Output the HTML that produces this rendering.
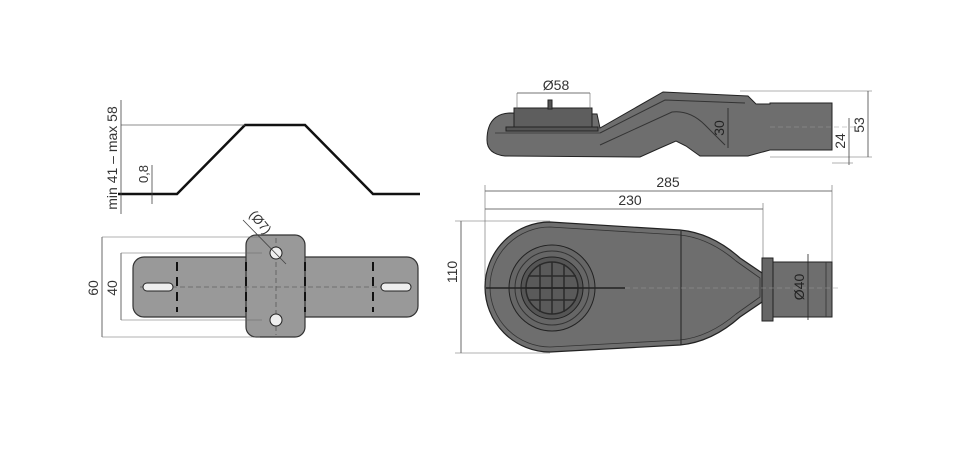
<!DOCTYPE html>
<html><head><style>html,body{margin:0;padding:0;background:#fff}svg{display:block}</style></head>
<body>
<svg width="960" height="471" viewBox="0 0 960 471" xmlns="http://www.w3.org/2000/svg" font-family="Liberation Sans, sans-serif" fill="none">
<rect width="960" height="471" fill="#fff"/>
<!-- LEFT profile -->
<polyline points="118,194 177,194 245,125 305,125 373,194 420,194" stroke="#111" stroke-width="2.5"/>
<line x1="121" y1="125" x2="245" y2="125" stroke="#666" stroke-width="0.7"/>
<line x1="121" y1="100" x2="121" y2="214" stroke="#444" stroke-width="0.8"/>
<line x1="152" y1="165" x2="152" y2="204" stroke="#444" stroke-width="0.8"/>
<text x="117" y="158" transform="rotate(-90 117 158)" text-anchor="middle" font-size="14" fill="#333">min 41 – max 58</text>
<text x="148" y="174" transform="rotate(-90 148 174)" text-anchor="middle" font-size="13" fill="#333">0,8</text>
<!-- plate -->
<rect x="133" y="257" width="285" height="60" rx="11" fill="#999" stroke="#333" stroke-width="1.2"/>
<rect x="246" y="235" width="59" height="102" rx="10" fill="#999" stroke="#333" stroke-width="1.2"/>
<g stroke="#111" stroke-width="2" stroke-dasharray="9,6">
<line x1="177" y1="262" x2="177" y2="312"/><line x1="246" y1="262" x2="246" y2="312"/>
<line x1="305" y1="262" x2="305" y2="312"/><line x1="373" y1="262" x2="373" y2="312"/>
</g>
<line x1="140" y1="287" x2="412" y2="287" stroke="#444" stroke-width="0.6" stroke-dasharray="5,3"/>
<line x1="276" y1="238" x2="276" y2="335" stroke="#444" stroke-width="0.6" stroke-dasharray="5,3"/>
<circle cx="276" cy="253" r="6" fill="#eee" stroke="#222"/>
<circle cx="276" cy="320" r="6" fill="#eee" stroke="#222"/>
<rect x="143" y="283" width="30" height="8" rx="4" fill="#eee" stroke="#222"/>
<rect x="381" y="283" width="30" height="8" rx="4" fill="#eee" stroke="#222"/>
<line x1="102" y1="237" x2="102" y2="337" stroke="#444" stroke-width="0.8"/>
<line x1="102" y1="237" x2="260" y2="237" stroke="#666" stroke-width="0.6"/>
<line x1="102" y1="337" x2="260" y2="337" stroke="#666" stroke-width="0.6"/>
<line x1="121" y1="253" x2="121" y2="320" stroke="#444" stroke-width="0.8"/>
<line x1="121" y1="253" x2="262" y2="253" stroke="#666" stroke-width="0.6"/>
<line x1="121" y1="320" x2="262" y2="320" stroke="#666" stroke-width="0.6"/>
<text x="98" y="288" transform="rotate(-90 98 288)" text-anchor="middle" font-size="14" fill="#333">60</text>
<text x="117" y="288" transform="rotate(-90 117 288)" text-anchor="middle" font-size="14" fill="#333">40</text>
<line x1="243" y1="220" x2="286" y2="264" stroke="#444" stroke-width="0.8"/>
<text x="257" y="225" transform="rotate(50 257 225)" text-anchor="middle" font-size="13" fill="#333">(Ø7)</text>
<!-- RIGHT side view -->
<path d="M487,140 Q487,114 510,113 L597,114 L600,128 L663,92 L748,96 L756,104 L770,104 L770,103 L832,103 L832,150 L770,150 L748,156 L700,156 L686,146 L676,141 L660,148 L640,157 L505,156 Q487,154 487,140 Z" fill="#6e6e6e" stroke="#222" stroke-width="1"/>
<path d="M600,133 L665,100 L745,103" stroke="#333" stroke-width="1"/>
<path d="M600,145 L672,112 Q690,110 705,125 L725,145" stroke="#333" stroke-width="1"/>
<line x1="495" y1="133" x2="600" y2="133" stroke="#333" stroke-width="0.8"/>
<rect x="514" y="108" width="78" height="20" fill="#5e5e5e" stroke="#222"/>
<rect x="506" y="127" width="92" height="4" fill="#555" stroke="#222"/>
<rect x="548" y="100" width="4" height="9" fill="#555" stroke="#222"/>
<line x1="770" y1="127" x2="860" y2="127" stroke="#999" stroke-width="0.6" stroke-dasharray="5,3"/>
<line x1="517" y1="93" x2="590" y2="93" stroke="#444" stroke-width="0.8"/>
<line x1="517" y1="93" x2="517" y2="110" stroke="#666" stroke-width="0.6"/>
<line x1="590" y1="93" x2="590" y2="110" stroke="#666" stroke-width="0.6"/>
<text x="556" y="90" text-anchor="middle" font-size="14" fill="#333">Ø58</text>
<line x1="728" y1="108" x2="728" y2="148" stroke="#222" stroke-width="0.8"/>
<text x="724" y="128" transform="rotate(-90 724 128)" text-anchor="middle" font-size="14" fill="#222">30</text>
<line x1="740" y1="91" x2="872" y2="91" stroke="#666" stroke-width="0.6"/>
<line x1="770" y1="157" x2="872" y2="157" stroke="#666" stroke-width="0.6"/>
<line x1="868" y1="91" x2="868" y2="157" stroke="#444" stroke-width="0.8"/>
<line x1="849" y1="118" x2="849" y2="165" stroke="#444" stroke-width="0.8"/>
<line x1="832" y1="163" x2="853" y2="163" stroke="#666" stroke-width="0.6"/>
<text x="864" y="125" transform="rotate(-90 864 125)" text-anchor="middle" font-size="14" fill="#333">53</text>
<text x="845" y="141" transform="rotate(-90 845 141)" text-anchor="middle" font-size="14" fill="#333">24</text>
<!-- top view -->
<line x1="485" y1="191" x2="832" y2="191" stroke="#444" stroke-width="0.8"/>
<line x1="485" y1="209" x2="763" y2="209" stroke="#444" stroke-width="0.8"/>
<line x1="485" y1="185" x2="485" y2="280" stroke="#666" stroke-width="0.6"/>
<line x1="832" y1="185" x2="832" y2="262" stroke="#666" stroke-width="0.6"/>
<line x1="763" y1="203" x2="763" y2="262" stroke="#666" stroke-width="0.6"/>
<text x="668" y="187" text-anchor="middle" font-size="14" fill="#333">285</text>
<text x="630" y="205" text-anchor="middle" font-size="14" fill="#333">230</text>
<path d="M550,222 L680,230 Q712,233 740,258 L765,275 L765,300 L740,317 Q712,342 680,345 L550,352 A65,65 0 0 1 550,222 Z" fill="#6e6e6e" stroke="#222" stroke-width="1.2"/>
<path d="M550,227 L680,235 Q709,238 736,261 L760,278 L760,297 L736,314 Q709,337 680,340 L550,347 A60,60 0 0 1 550,227 Z" stroke="#333" stroke-width="0.8"/>
<line x1="681" y1="231" x2="681" y2="345" stroke="#222" stroke-width="1"/>
<rect x="762" y="262" width="70" height="55" fill="#6e6e6e" stroke="#222"/>
<rect x="762" y="258" width="11" height="63" fill="#666" stroke="#222"/>
<line x1="826" y1="262" x2="826" y2="317" stroke="#333" stroke-width="0.8"/>
<circle cx="552" cy="288" r="43" fill="#666" stroke="#222"/>
<circle cx="552" cy="288" r="37" stroke="#333"/>
<circle cx="552" cy="288" r="31" fill="#555" stroke="#222"/>
<g stroke="#2a2a2a" stroke-width="1.5">
<circle cx="552" cy="288" r="26" fill="#5a5a5a"/>
<line x1="540" y1="264" x2="540" y2="312"/><line x1="552" y1="262" x2="552" y2="314"/><line x1="564" y1="264" x2="564" y2="312"/>
<line x1="528" y1="276" x2="576" y2="276"/><line x1="526" y1="288" x2="578" y2="288"/><line x1="528" y1="300" x2="576" y2="300"/>
</g>
<line x1="486" y1="288" x2="625" y2="288" stroke="#222" stroke-width="1.5"/>
<line x1="625" y1="288" x2="840" y2="288" stroke="#999" stroke-width="0.6" stroke-dasharray="5,3"/>
<line x1="461" y1="221" x2="461" y2="353" stroke="#444" stroke-width="0.8"/>
<line x1="455" y1="221" x2="550" y2="221" stroke="#666" stroke-width="0.6"/>
<line x1="455" y1="353" x2="550" y2="353" stroke="#666" stroke-width="0.6"/>
<text x="457" y="272" transform="rotate(-90 457 272)" text-anchor="middle" font-size="14" fill="#333">110</text>
<line x1="808" y1="254" x2="808" y2="320" stroke="#222" stroke-width="0.8"/>
<text x="804" y="287" transform="rotate(-90 804 287)" text-anchor="middle" font-size="14" fill="#222">Ø40</text>
</svg>
</body></html>
